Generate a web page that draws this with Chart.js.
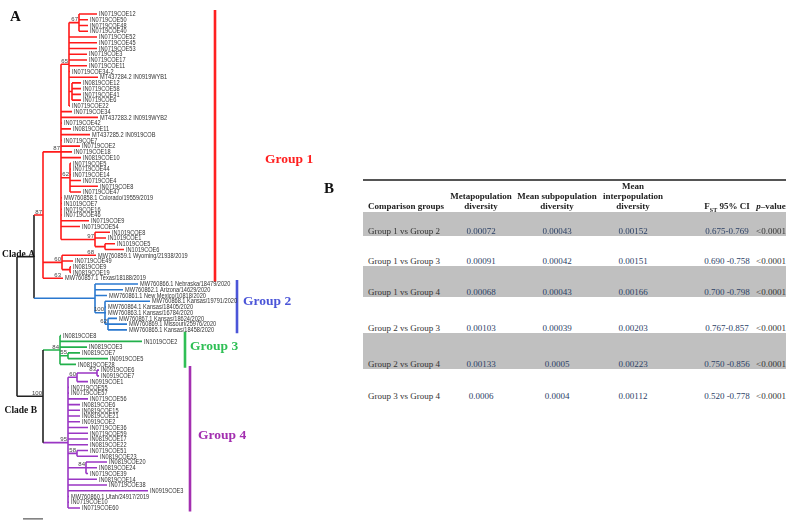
<!DOCTYPE html>
<html lang="en">
  <head>
    <meta charset="UTF-8" />
    <title>Phylogeny and population differentiation</title>
    <style>
      body {
        margin: 0;
        background: #fff;
        font-family: "Liberation Serif", "Times New Roman", serif;
      }
      #wrap {
        position: relative;
        width: 788px;
        height: 526px;
        overflow: hidden;
      }
      #treeChart {
        position: absolute;
        left: 0;
        top: 0;
      }
      .cell {
        position: absolute;
        font-size: 9px;
        line-height: 10px;
        color: #333;
        white-space: nowrap;
      }
      .head {
        font-weight: bold;
        text-align: center;
        color: #222;
      }
      .num {
        color: #2c4166;
      }
      .band {
        position: absolute;
        left: 363px;
        width: 423px;
        background: #c0c0c0;
      }
    </style>
    <script src="https://cdn.jsdelivr.net/npm/chart.js"></script>
  </head>
  <body>
    <div id="wrap">
      <canvas id="treeChart" width="340" height="526"></canvas>
      <div id="tableB"></div>
    </div>

    <script>
      // ---- tree data (newick, branch lengths in drawing units, internal names = bootstrap) ----
      const group1Tree =
        "((((IN0719COE12:18,IN0719COE50:9,IN0719COE48:9,IN0719COE40:9)67:10," +
        "IN0719COE52:28,IN0719COE45:28,IN0719COE53:28,IN0719COE3:18,IN0719COE17:18,IN0719COE11:18,IN0719COE34-2:1," +
        "'MT437284.2 IN0919WYB1':29,(IN0819COE12:9,IN0719COE58:9,IN0719COE41:9,IN0719COE6:9):3,IN0719COE22:1)65:8," +
        "IN0719COE34:11,'MT437283.2 IN0919WYB2':37,IN0719COE42:1,IN0819COE11:10,'MT437285.2 IN0919COB':29," +
        "IN0719COE7:1,IN0719COE2:19,IN0719COE18:11,IN0819COE10:20," +
        "(IN0719COE5:1,IN0719COE44:1,IN0719COE14:1,IN0719COE4:11,IN0719COE8:28,IN0719COE47:11)62:9," +
        "'MW760858.1 Colorado/19559/2019':1,IN1019COE7:1,IN0719COE16:1,IN0719COE46:1,IN0719COE9:28,IN0719COE54:19," +
        "(IN1019COE8:15,IN1019COE1:11,(IN1019COE5:10,IN1019COE6:19):10)97:34)87:18," +
        "(('MW760859.1 Wyoming/21938/2019':1)68:33,IN0719COE49:11,(IN0819COE9:1,IN0819COE19:1):8)60:19," +
        "('MW760857.1 Texas/18188/2019':1)63:19)";
      const group2Tree =
        "('MW760866.1 Nebraska/18479/2020':43,'MW760862.1 Arizona/14629/2020':28,'MW760861.1 New Mexico/10818/2020':12," +
        "('MW760868.1 Kansas/19791/2020':45,'MW760864.1 Kansas/18405/2020':1,'MW760863.1 Kansas/16784/2020':1," +
        "('MW760867.1 Kansas/18624/2020':9,'MW760869.1 Missouri/25976/2020':19,'MW760865.1 Kansas/18458/2020':19)62:3)100:10)";
      const group3Tree =
        "(IN0819COE8:1,IN1019COE2:82,IN0819COE3:27,(IN0819COE7:12,IN0919COE5:40)55:8,IN0819COE28:16)";
      const group4Tree =
        "(((IN0919COE6:2,IN0919COE7:2)83:20,IN0919COE1:11)60:9,IN0719COE55:1,IN0719COE57:1,IN0719COE56:20," +
        "IN0819COE6:12,IN0819COE15:12,IN0819COE21:12,IN0919COE2:12,IN0719COE36:20,IN0719COE59:20,IN0819COE17:20,IN0819COE22:20," +
        "(IN0719COE51:11,IN0819COE23:21)58:9,(IN0819COE20:21,IN0819COE24:11,IN0719COE39:2)84:18," +
        "IN0819COE14:29,IN0719COE38:39,IN0919COE3:80,'MW760860.1 Utah/24917/2019':1,IN0719COE10:1,IN0719COE60:12)";

      const groupNames = ["Group 1", "Group 2", "Group 3", "Group 4"];
      const groupStemLength = [9, 61, 17, 25];
      const groupStemSupport = ["87", "", "84", "95"];
      const branchColors = ["#ff1a1a", "#2a78cf", "#22b04b", "#9a36c4"];
      const bracketColors = ["#ff2020", "#4b55d8", "#2fbf55", "#a32fb0"];
      const bracketX = [198, 220, 168, 173];
      const labelDx = [50, 6, 5, 8];
      const labelDy = [14, -5, -3, -3];

      const cladeNames = ["Clade A", "Clade B"];
      const cladeStemLength = [17, 26];
      const cladeSupport = ["", "100"];

      // ---- table data ----
      const comparisonGroups = [
        "Group 1 vs Group 2",
        "Group 1 vs Group 3",
        "Group 1 vs Group 4",
        "Group 2 vs Group 3",
        "Group 2 vs Group 4",
        "Group 3 vs Group 4",
      ];
      const metapopDiversity = ["0.00072", "0.00091", "0.00068", "0.00103", "0.00133", "0.0006"];
      const meanSubpopDiversity = ["0.00043", "0.00042", "0.00043", "0.00039", "0.0005", "0.0004"];
      const meanInterpopDiversity = ["0.00152", "0.00151", "0.00166", "0.00203", "0.00223", "0.00112"];
      const fstCI = ["0.675-0.769", "0.690 -0.758", "0.700 -0.798", "0.767-0.857", "0.750 -0.856", "0.520 -0.778"];
      const pValues = ["<0.0001", "<0.0001", "<0.0001", "<0.0001", "<0.0001", "<0.0001"];
      const tableHeaders = [
        ["Comparison groups"],
        ["Metapopulation", "diversity"],
        ["Mean subpopulation", "diversity"],
        ["Mean", "interpopulation", "diversity"],
        ["F<sub style='font-size:6px'>ST</sub> 95% CI"],
        ["<i>p</i>\u2013value"],
      ];

      // ---- newick parser ----
      function parseNewick(s) {
        let i = 0;
        function node() {
          const n = { children: [], name: "", len: 0 };
          if (s[i] === "(") {
            i++;
            n.children.push(node());
            while (s[i] === ",") {
              i++;
              n.children.push(node());
            }
            i++; // ')'
          }
          if (s[i] === "'") {
            const j = s.indexOf("'", i + 1);
            n.name = s.slice(i + 1, j);
            i = j + 1;
          } else {
            const m = /^[^:,();]*/.exec(s.slice(i))[0];
            n.name = m;
            i += m.length;
          }
          if (s[i] === ":") {
            i++;
            const m = /^[0-9.]+/.exec(s.slice(i))[0];
            n.len = parseFloat(m);
            i += m.length;
          }
          return n;
        }
        return node();
      }

      function paint(n, color, group) {
        n.color = color;
        n.group = group;
        n.children.forEach((c) => paint(c, color, group));
      }

      const groupNodes = [group1Tree, group2Tree, group3Tree, group4Tree].map((s, g) => {
        const t = parseNewick(s);
        t.len = groupStemLength[g];
        t.name = groupStemSupport[g];
        paint(t, branchColors[g], g);
        return t;
      });
      const clades = cladeNames.map((name, k) => ({
        name: cladeSupport[k],
        clade: name,
        len: cladeStemLength[k],
        color: "#222",
        children: [groupNodes[k * 2], groupNodes[k * 2 + 1]],
      }));
      const root = { name: "", len: 0, color: "#222", children: clades };

      // layout: depth along x, leaf order along y
      const leaves = [];
      const internals = [];
      const segments = {}; // color -> points
      function addSeg(color, x1, y1, x2, y2) {
        if (!segments[color]) segments[color] = [];
        segments[color].push({ x: x1, y: y1 }, { x: x2, y: y2 }, { x: x2, y: null });
      }
      (function walk(n, parentDepth) {
        n.depth = parentDepth + n.len;
        n.parentDepth = parentDepth;
        if (!n.children.length) {
          n.y = leaves.length;
          leaves.push(n);
        } else {
          n.children.forEach((c) => walk(c, n.depth));
          n.y = (n.children[0].y + n.children[n.children.length - 1].y) / 2;
          internals.push(n);
        }
      })(root, 0);

      [...internals, ...leaves].forEach((n) => {
        if (n !== root) addSeg(n.color, n.parentDepth, n.y, n.depth, n.y);
        if (n.children.length > 1) {
          addSeg(n.color, n.depth, n.children[0].y, n.depth, n.children[n.children.length - 1].y);
        }
      });

      const datasets = Object.keys(segments).map((c) => ({
        data: segments[c],
        borderColor: c,
        borderWidth: 1.6,
        pointRadius: 0,
        spanGaps: false,
        borderCapStyle: "butt",
      }));

      // group brackets
      const groupRange = groupNames.map((_, g) => {
        const ys = leaves.filter((l) => l.group === g).map((l) => l.y);
        return [Math.min(...ys) - 0.7, Math.max(...ys) + 0.6];
      });
      groupNames.forEach((_, g) => {
        datasets.push({
          data: [
            { x: bracketX[g], y: groupRange[g][0] },
            { x: bracketX[g], y: groupRange[g][1] },
          ],
          borderColor: bracketColors[g],
          borderWidth: 2.6,
          pointRadius: 0,
          borderCapStyle: "butt",
        });
      });

      // scale bar
      datasets.push({
        data: [
          { x: 6, y: leaves.length + 0.9 },
          { x: 26, y: leaves.length + 0.9 },
        ],
        borderColor: "#555",
        borderWidth: 1.2,
        pointRadius: 0,
      });

      const treeLabels = {
        id: "treeLabels",
        afterDatasetsDraw(chart) {
          const { ctx } = chart;
          const sx = chart.scales.x;
          const sy = chart.scales.y;
          ctx.save();
          // leaf names (narrow type, as in the figure)
          const squeeze = 0.88;
          ctx.save();
          ctx.scale(squeeze, 1);
          ctx.fillStyle = "#333";
          ctx.font = '6.4px "Liberation Sans", Arial, sans-serif';
          ctx.textBaseline = "middle";
          ctx.textAlign = "left";
          leaves.forEach((l) => {
            ctx.fillText(l.name, (sx.getPixelForValue(l.depth) + 2) / squeeze, sy.getPixelForValue(l.y) + 0.5);
          });
          ctx.restore();
          // bootstrap support
          ctx.fillStyle = "#444";
          ctx.font = '6px "Liberation Sans", Arial, sans-serif';
          ctx.textAlign = "right";
          ctx.textBaseline = "alphabetic";
          internals.forEach((n) => {
            if (!n.name) return;
            ctx.fillText(n.name, sx.getPixelForValue(n.depth) - 1, sy.getPixelForValue(n.y) - 1.5);
          });
          // clade names
          ctx.fillStyle = "#111";
          ctx.font = 'bold 9.5px "Liberation Serif", "Times New Roman", serif';
          ctx.textBaseline = "middle";
          clades.forEach((c, k) => {
            const px = sx.getPixelForValue(c.depth);
            const py = sy.getPixelForValue(c.y);
            ctx.fillText(c.clade, k === 0 ? px + 1 : px - 6, k === 0 ? py - 2 : py + 14);
          });
          // group labels
          ctx.textAlign = "left";
          ctx.font = 'bold 13.5px "Liberation Serif", "Times New Roman", serif';
          groupNames.forEach((name, g) => {
            ctx.fillStyle = bracketColors[g];
            const mid = sy.getPixelForValue((groupRange[g][0] + groupRange[g][1]) / 2);
            ctx.fillText(name, sx.getPixelForValue(bracketX[g]) + labelDx[g], mid + labelDy[g]);
          });
          // panel letter
          ctx.fillStyle = "#111";
          ctx.font = 'bold 15px "Liberation Serif", "Times New Roman", serif';
          ctx.fillText("A", 10, 17);
          ctx.restore();
        },
      };

      new Chart(document.getElementById("treeChart"), {
        type: "line",
        data: { datasets: datasets },
        options: {
          responsive: false,
          animation: false,
          devicePixelRatio: 1,
          layout: { padding: 0 },
          plugins: { legend: { display: false }, tooltip: { enabled: false } },
          scales: {
            x: { type: "linear", min: -17, max: 323, display: false },
            y: { type: "linear", min: -2.437, max: 89.14, reverse: true, display: false },
          },
        },
        plugins: [treeLabels],
      });

      // ---- table B ----
      const tableEl = document.getElementById("tableB");
      const colCenters = [null, 481, 557, 633, 727, 771];
      const rowBottoms = [236, 266, 297, 333, 369, 401];
      const rowTops = [212, 236, 266, 297, 333, 369];
      let html = "";
      html += "<div class='cell' style='left:324px;top:179px;font-size:15px;line-height:18px;font-weight:bold;color:#111'>B</div>";
      html += "<div style='position:absolute;left:363px;top:179px;width:423px;height:1.5px;background:#555'></div>";
      rowTops.forEach((t, r) => {
        if (r % 2 === 0) html += `<div class='band' style='top:${t}px;height:${rowBottoms[r] - t}px'></div>`;
      });
      tableHeaders.forEach((lines, c) => {
        const top = 211 - lines.length * 10;
        const pos = c === 0 ? "left:368px;text-align:left" : `left:${colCenters[c]}px;transform:translateX(-50%)`;
        html += `<div class='cell head' style='top:${top}px;${pos}'>${lines.join("<br>")}</div>`;
      });
      const cols = [comparisonGroups, metapopDiversity, meanSubpopDiversity, meanInterpopDiversity, fstCI, pValues];
      comparisonGroups.forEach((_, r) => {
        const top = rowBottoms[r] - 10;
        cols.forEach((col, c) => {
          const text = col[r].replace("<", "&lt;");
          if (c === 0) {
            html += `<div class='cell' style='top:${top}px;left:368px'>${text}</div>`;
          } else {
            const cls = c < 5 ? "cell num" : "cell";
            html += `<div class='${cls}' style='top:${top}px;left:${colCenters[c]}px;transform:translateX(-50%)'>${text}</div>`;
          }
        });
      });
      tableEl.innerHTML = html;
    </script>
  </body>
</html>
